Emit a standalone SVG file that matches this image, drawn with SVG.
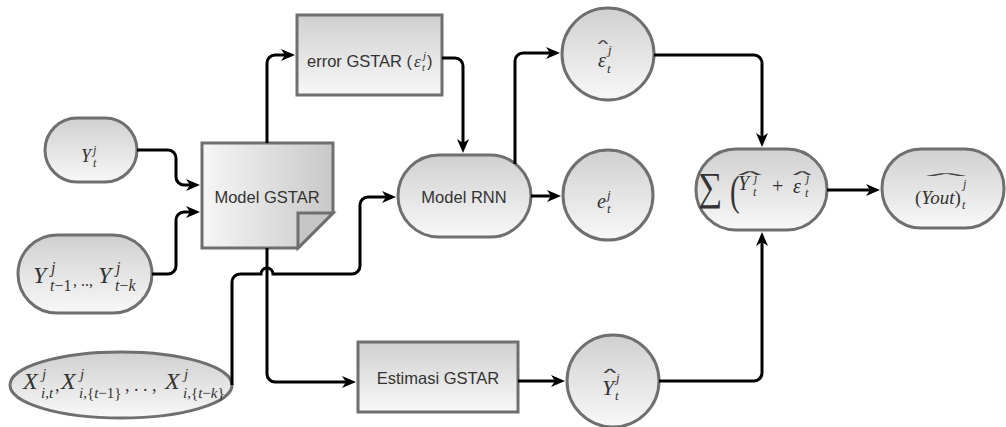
<svg xmlns="http://www.w3.org/2000/svg" width="1006" height="427" viewBox="0 0 1006 427">
  <defs>
    <linearGradient id="gV" x1="0" y1="0" x2="0" y2="1">
      <stop offset="0" stop-color="#d0d0d0"/>
      <stop offset="1" stop-color="#f8f8f8"/>
    </linearGradient>
    <linearGradient id="gH" x1="0" y1="0" x2="1" y2="0">
      <stop offset="0" stop-color="#f6f6f6"/>
      <stop offset="1" stop-color="#c8c8c8"/>
    </linearGradient>
    <marker id="arrow" viewBox="0 0 14 12" refX="6" refY="6" markerWidth="14" markerHeight="12" markerUnits="userSpaceOnUse" orient="auto">
      <path d="M0 0 L14 6 L0 12 L4 6 Z" fill="#000"/>
    </marker>
    <style>
      .node { fill: url(#gV); stroke: #6f6f6f; stroke-width: 3; }
      .doc { fill: url(#gH); stroke: #6f6f6f; stroke-width: 3; }
      .fold { fill: #c6c6c6; stroke: #6f6f6f; stroke-width: 3; stroke-linejoin: miter; }
      .edge { fill: none; stroke: #000; stroke-width: 3; marker-end: url(#arrow); }
      .lbl { font-family: "Liberation Sans", Arial, sans-serif; font-size: 16.5px; fill: #333; }
      .mi { font-family: "Liberation Serif", "Times New Roman", serif; font-style: italic; fill: #333; }
      .mo { font-family: "Liberation Serif", "Times New Roman", serif; font-style: normal; fill: #333; }
      /* wide hat accent: a logical-and sign squashed into a shallow caret */
      .hat { font-family: "DejaVu Sans", sans-serif; font-size: 16px; fill: #444; text-anchor: middle; }
    </style>
  </defs>

  <!-- nodes -->
  <g id="node-yt">
    <rect class="node" x="45" y="118" width="92" height="64" rx="32"/>
    <text class="mi" x="81" y="162" font-size="18">Y</text>
    <text class="mi" x="93" y="154" font-size="12">j</text>
    <text class="mi" x="93" y="167" font-size="12">t</text>
  </g>

  <g id="node-ylag">
    <rect class="node" x="18" y="235" width="134" height="78" rx="39"/>
    <text class="mi" x="33" y="283" font-size="24">Y</text>
    <text class="mi" x="51" y="273" font-size="16">j</text>
    <text class="mi" x="50" y="291" font-size="16">t<tspan class="mo">−1</tspan></text>
    <text class="mo" x="73" y="286" font-size="16">, .., </text>
    <text class="mi" x="98" y="283" font-size="24">Y</text>
    <text class="mi" x="116" y="273" font-size="16">j</text>
    <text class="mi" x="115" y="291" font-size="16">t<tspan class="mo">−</tspan>k</text>
  </g>

  <g id="node-x">
    <ellipse class="node" cx="121" cy="385" rx="111" ry="33"/>
    <text class="mi" x="23" y="389" font-size="24">X</text>
    <text class="mi" x="42" y="379" font-size="15">j</text>
    <text class="mi" x="41" y="398" font-size="15">i<tspan class="mo">,</tspan>t</text>
    <text class="mo" x="55" y="391" font-size="18">,</text>
    <text class="mi" x="61" y="389" font-size="24">X</text>
    <text class="mi" x="80" y="379" font-size="15">j</text>
    <text class="mi" x="79" y="398" font-size="15">i<tspan class="mo">,{</tspan>t<tspan class="mo">−1}</tspan></text>
    <text class="mo" x="125" y="391" font-size="18">,  .  .  ,</text>
    <text class="mi" x="165" y="389" font-size="24">X</text>
    <text class="mi" x="184" y="379" font-size="15">j</text>
    <text class="mi" x="183" y="398" font-size="15">i<tspan class="mo">,{</tspan>t<tspan class="mo">−</tspan>k<tspan class="mo">}</tspan></text>
  </g>

  <g id="node-gstar">
    <path class="doc" d="M202 143 H333 V213 L298 248 H202 Z"/>
    <path class="fold" d="M298 248 V213 H333 Z"/>
    <text class="lbl" x="267" y="203" text-anchor="middle">Model GSTAR</text>
  </g>

  <g id="node-error">
    <rect class="node" x="297" y="15" width="145" height="80"/>
    <text class="lbl" x="307" y="67">error GSTAR (</text>
    <text class="mi" x="414" y="67" font-size="17">ε</text>
    <text class="mi" x="423" y="59" font-size="11">j</text>
    <text class="mi" x="422" y="71" font-size="11">t</text>
    <text class="lbl" x="427" y="67">)</text>
  </g>

  <g id="node-rnn">
    <rect class="node" x="398" y="155" width="133" height="82" rx="41"/>
    <text class="lbl" x="464" y="203" text-anchor="middle">Model RNN</text>
  </g>

  <g id="node-epshat">
    <circle class="node" cx="608" cy="54" r="46"/>
    <text class="hat" transform="translate(603 44) scale(1.4 0.4)">∧</text>
    <text class="mi" x="598" y="67" font-size="20">ε</text>
    <text class="mi" x="608" y="54" font-size="13">j</text>
    <text class="mi" x="607" y="73" font-size="13">t</text>
  </g>

  <g id="node-e">
    <circle class="node" cx="608" cy="195" r="45"/>
    <text class="mi" x="597" y="208" font-size="20">e</text>
    <text class="mi" x="607" y="199" font-size="13">j</text>
    <text class="mi" x="607" y="213" font-size="13">t</text>
  </g>

  <g id="node-estimasi">
    <rect class="node" x="358" y="342" width="160" height="70"/>
    <text class="lbl" x="438" y="384" text-anchor="middle">Estimasi GSTAR</text>
  </g>

  <g id="node-yhat">
    <circle class="node" cx="613" cy="381" r="46"/>
    <text class="hat" transform="translate(610 373) scale(1.7 0.45)">∧</text>
    <text class="mi" x="602" y="395" font-size="22">Y</text>
    <text class="mi" x="616" y="382" font-size="13">j</text>
    <text class="mi" x="615" y="400" font-size="13">t</text>
  </g>

  <g id="node-sum">
    <rect class="node" x="696" y="149" width="131" height="81" rx="40"/>
    <text class="mo" font-size="40" transform="translate(698 200) scale(0.85 1)">∑</text>
    <text class="mo" font-size="36" transform="translate(730 205) scale(0.8 1.2)">(</text>
    <text class="hat" transform="translate(750 175) scale(3.1 0.4)">∧</text>
    <text class="mi" x="738" y="190" font-size="20">Y</text>
    <text class="mi" x="754" y="182" font-size="12">j</text>
    <text class="mi" x="753" y="196" font-size="12">t</text>
    <text class="mo" x="772" y="193" font-size="20">+</text>
    <text class="hat" transform="translate(802 175) scale(2.5 0.4)">∧</text>
    <text class="mi" x="793" y="193" font-size="20">ε</text>
    <text class="mi" x="806" y="182" font-size="12">j</text>
    <text class="mi" x="805" y="197" font-size="12">t</text>
  </g>

  <g id="node-out">
    <rect class="node" x="882" y="149" width="122" height="79" rx="39"/>
    <text class="hat" transform="translate(946 176) scale(5.4 0.3)">∧</text>
    <text class="mi" x="915" y="204" font-size="19"><tspan class="mo">(</tspan>Yout<tspan class="mo">)</tspan></text>
    <text class="mi" x="963" y="188" font-size="12">j</text>
    <text class="mi" x="962" y="209" font-size="12">t</text>
  </g>

  <!-- connectors -->
  <g id="connectors">
    <path class="edge" d="M137 150 H168 a8 8 0 0 1 8 8 V177 a8 8 0 0 0 8 8 H192"/>
    <path class="edge" d="M152 274 H168 a8 8 0 0 0 8 -8 V220 a8 8 0 0 1 8 -8 H192"/>
    <path class="edge" d="M267 143 V63 a8 8 0 0 1 8 -8 H287"/>
    <path class="edge" d="M442 58 H455 a8 8 0 0 1 8 8 V145"/>
    <path class="edge" d="M515 164 V61 a8 8 0 0 1 8 -8 H552"/>
    <path class="edge" d="M531 196 H553"/>
    <path class="edge" d="M654 55 H754 a8 8 0 0 1 8 8 V139"/>
    <path class="edge" d="M659 381 H754 a8 8 0 0 0 8 -8 V240"/>
    <path class="edge" d="M827 190 H872"/>
    <path class="edge" d="M267 248 V374 a8 8 0 0 0 8 8 H348"/>
    <path class="edge" d="M232 385 V282 a8 8 0 0 1 8 -8 H261 a6 6 0 0 1 12 0 H352 a8 8 0 0 0 8 -8 V205 a8 8 0 0 1 8 -8 H388"/>
    <path class="edge" d="M518 381 H557"/>
  </g>
</svg>
